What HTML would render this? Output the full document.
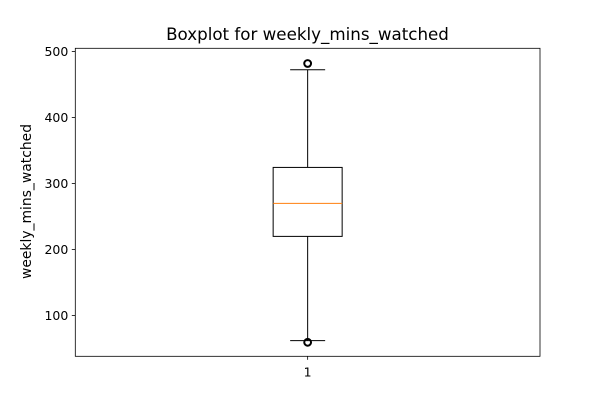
<!DOCTYPE html>
<html><head><meta charset="utf-8"><style>
body{margin:0;background:#fff;}
svg text{font-family:"DejaVu Sans","Liberation Sans",sans-serif;}
</style></head><body>
<svg width="600" height="400">
<rect width="600" height="400" fill="#fff"/>
<text x="307.5" y="40" text-anchor="middle" font-size="16.7">Boxplot for weekly_mins_watched</text>
<g id="plot"></g>
<text transform="translate(31,201.5) rotate(-90)" text-anchor="middle" font-size="13.9">weekly_mins_watched</text>
</svg>
<script>
const categories = ["1"];
const whiskerLow = [62];
const q1 = [220];
const median = [270];
const q3 = [324.5];
const whiskerHigh = [472.5];
const fliers = [[59.5, 482]];
const yTicks = [100, 200, 300, 400, 500];

const L = 75.3, R = 540, T = 48.3, B = 356.3;
const yMin = 38.3, yMax = 505;
const y = v => B - (v - yMin) / (yMax - yMin) * (B - T);
const x = i => L + (R - L) * (i + 1) / (categories.length + 1);
const ns = "http://www.w3.org/2000/svg";
const g = document.getElementById("plot");
function mk(tag, attrs) { const e = document.createElementNS(ns, tag); for (const k in attrs) e.setAttribute(k, attrs[k]); g.appendChild(e); return e; }

yTicks.forEach(t => {
  const l = mk("line", {x1: L - 3.5, x2: L, y1: y(t), y2: y(t), stroke: "#000", "stroke-width": 0.8});
  
  
  const tx = mk("text", {x: L - 7, y: y(t) + 4.5, "text-anchor": "end", "font-size": 12.5});
  tx.textContent = t;
  
  
});

categories.forEach((c, i) => {
  const cx = x(i), hw = 34.5, cw = 17.5;
  const w1 = mk("line", {x1: cx, x2: cx, y1: y(q1[i]), y2: y(whiskerLow[i]), stroke: "#000", "stroke-width": 1});
  
  
  const w2 = mk("line", {x1: cx, x2: cx, y1: y(q3[i]), y2: y(whiskerHigh[i]), stroke: "#000", "stroke-width": 1});
  
  
  const c1 = mk("line", {x1: cx - cw, x2: cx + cw, y1: y(whiskerLow[i]), y2: y(whiskerLow[i]), stroke: "#000", "stroke-width": 1});
  
  
  const c2 = mk("line", {x1: cx - cw, x2: cx + cw, y1: y(whiskerHigh[i]), y2: y(whiskerHigh[i]), stroke: "#000", "stroke-width": 1});
  
  
  const b = mk("rect", {x: cx - hw, y: y(q3[i]), width: 2 * hw, height: y(q1[i]) - y(q3[i]), fill: "none", stroke: "#000", "stroke-width": 1});
  
  
  const m = mk("line", {x1: cx - hw, x2: cx + hw, y1: y(median[i]), y2: y(median[i]), stroke: "#ff7f0e", "stroke-width": 1});
  
  
  fliers[i].forEach(f => {
    const o = mk("circle", {cx: cx, cy: y(f), r: 3.4, fill: "none", stroke: "#000", "stroke-width": 2});
    
    
  });
  const xt = mk("line", {x1: cx, x2: cx, y1: B, y2: B + 3.5, stroke: "#000", "stroke-width": 0.8});
  
  
  const xl = mk("text", {x: cx, y: B + 20, "text-anchor": "middle", "font-size": 12.5});
  xl.textContent = c;
  
  
});

const frame = mk("rect", {x: L, y: T, width: R - L, height: B - T, fill: "none", stroke: "#000", "stroke-width": 0.8});


</script>
</body></html>
